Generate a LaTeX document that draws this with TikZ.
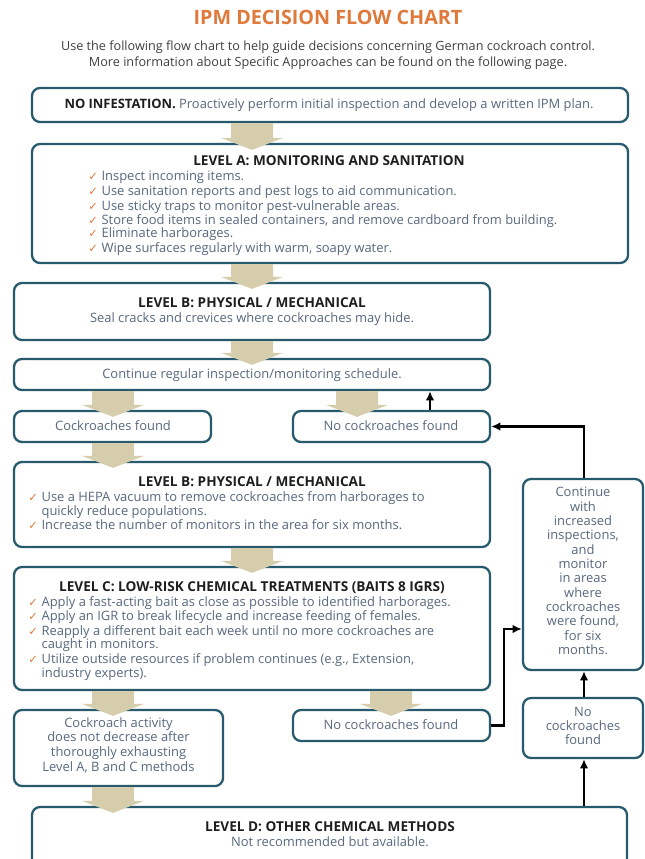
\documentclass[tikz,border=0pt]{standalone}
\usepackage{fontspec}
\setmainfont{Open Sans}
\newfontfamily\symfont{DejaVu Sans}
\usetikzlibrary{arrows.meta,calc,fit}
\definecolor{boxc}{RGB}{40,90,110}
\definecolor{bodyc}{RGB}{88,104,126}
\definecolor{headc}{RGB}{30,30,30}
\definecolor{orangec}{RGB}{224,122,60}
\definecolor{tanc}{RGB}{214,205,172}
\newcommand\ck{\makebox[10pt][l]{\symfont\fontsize{8.5}{8.5}\selectfont\color{orangec}✓}}
\newcommand\tanarrow[3]{%
  \fill[tanc] ($(#1.south -| #3)+(-21,0)$) -- ($(#2.north -| #3)+(-21,-5)$) -- ($(#2.north -| #3)+(-31,-5)$) -- ($(#2.north -| #3)+(0,7)$) -- ($(#2.north -| #3)+(31,-5)$) -- ($(#2.north -| #3)+(21,-5)$) -- ($(#1.south -| #3)+(21,0)$) -- cycle;}
\tikzset{
  box/.style={draw=boxc, line width=1.7pt, rounded corners=6pt, fill=white, inner sep=0pt},
  txt/.style={inner sep=0pt, anchor=base, text=bodyc, font=\fontsize{9.7}{10.5}\selectfont},
  txtl/.style={txt, anchor=base west},
  head/.style={txt, text=headc, font=\fontsize{10.2}{10.5}\selectfont\bfseries},
  blk/.style={draw=black, line width=1.6pt, -{Latex[length=7pt,width=6.5pt]}}
}
\begin{document}
\begin{tikzpicture}[x=0.75pt,y=-0.75pt]
\useasboundingbox (0,0) rectangle (645,859);
\clip (0,0) rectangle (645,859);
\fill[white] (0,0) rectangle (645,859);
% title
\node[txt, text=orangec, font=\fontsize{14.8}{16}\selectfont\bfseries] (title) at (328,25) {IPM DECISION FLOW CHART};
\node[txt, text=headc!85, font=\fontsize{9.5}{10.5}\selectfont] (sub1) at (328,51) {Use the following flow chart to help guide decisions concerning German cockroach control.};
\node[txt, text=headc!85, font=\fontsize{9.5}{10.5}\selectfont] (sub2) at (328,67) {More information about Specific Approaches can be found on the following page.};
% boxes
\node[box, fit={(32,88) (628,122)}] (b1) {};
\node[box, fit={(32,144) (628,263)}] (lA) {};
\node[box, fit={(14,283) (490,340)}] (lB) {};
\node[box, fit={(14,359) (490,390)}] (cont) {};
\node[box, fit={(14,411) (211,442)}] (found) {};
\node[box, fit={(293,411) (490,442)}] (nofound) {};
\node[box, fit={(14,462) (490,547)}] (lB2) {};
\node[box, fit={(14,567) (490,690)}] (lC) {};
\node[box, fit={(14,710) (223,786)}] (act) {};
\node[box, fit={(293,710) (490,741)}] (nofound2) {};
\node[box, fit={(523,479) (643,670)}] (contw) {};
\node[box, fit={(523,698) (643,758)}] (nofound3) {};
\node[box, fit={(32,807) (627,880)}] (lD) {};
% positions
\coordinate (xm) at (252,0);
\coordinate (xl) at (113,0);
\coordinate (xr) at (357,0);
\coordinate (xr2) at (391,0);
\coordinate (xb) at (430,0);
\coordinate (xc) at (584,0);
\coordinate (xj) at (504,0);
\coordinate (yj) at (0,629);
% tan arrows
\tanarrow{b1}{lA}{xm}
\tanarrow{lA}{lB}{xm}
\tanarrow{lB}{cont}{xm}
\tanarrow{cont}{found}{xl}
\tanarrow{cont}{nofound}{xr}
\tanarrow{found}{lB2}{xl}
\tanarrow{lB2}{lC}{xm}
\tanarrow{lC}{act}{xl}
\tanarrow{lC}{nofound2}{xr2}
\tanarrow{act}{lD}{xl}
% black arrows
\draw[blk] (nofound.north -| xb) -- (cont.south -| xb);
\draw[blk] (contw.north -| xc) |- (nofound.east);
\draw[blk] (nofound2.east) -| (xj |- yj) -- (contw.west |- yj);
\draw[blk] (lD.north -| xc) -- (nofound3.south -| xc);
\draw[blk] (nofound3.north -| xc) -- (contw.south -| xc);
% texts
\node[txt] (t1) at (329,109) {\textcolor{headc}{\bfseries NO INFESTATION.} Proactively perform initial inspection and develop a written IPM plan.};
\node[head] (tA) at (329,166) {LEVEL A: MONITORING AND SANITATION};
\node[txtl] (a1) at (88,181) {\ck Inspect incoming items.};
\node[txtl] (a2) at (88,196) {\ck Use sanitation reports and pest logs to aid communication.};
\node[txtl] (a3) at (88,210) {\ck Use sticky traps to monitor pest-vulnerable areas.};
\node[txtl] (a4) at (88,224) {\ck Store food items in sealed containers, and remove cardboard from building.};
\node[txtl] (a5) at (88,238) {\ck Eliminate harborages.};
\node[txtl] (a6) at (88,252) {\ck Wipe surfaces regularly with warm, soapy water.};
\node[head] (tB) at (252,307) {LEVEL B: PHYSICAL / MECHANICAL};
\node[txt] (b1t) at (252,322) {Seal cracks and crevices where cockroaches may hide.};
\node[txt] (ct) at (252,378) {Continue regular inspection/monitoring schedule.};
\node[txt] (ft) at (113,430) {Cockroaches found};
\node[txt] (nft) at (391,430) {No cockroaches found};
\node[head] (tB2) at (252,486) {LEVEL B: PHYSICAL / MECHANICAL};
\node[txtl] (c1) at (28,501) {\ck Use a HEPA vacuum to remove cockroaches from harborages to};
\node[txtl] (c1b) at (28,515) {\phantom{\ck}quickly reduce populations.};
\node[txtl] (c2) at (28,529) {\ck Increase the number of monitors in the area for six months.};
\node[head] (tC) at (252,591) {LEVEL C: LOW-RISK CHEMICAL TREATMENTS (BAITS 8 IGRS)};
\node[txtl] (d1) at (28,606) {\ck Apply a fast-acting bait as close as possible to identified harborages.};
\node[txtl] (d2) at (28,620) {\ck Apply an IGR to break lifecycle and increase feeding of females.};
\node[txtl] (d3) at (28,635) {\ck Reapply a different bait each week until no more cockroaches are};
\node[txtl] (d3b) at (28,648) {\phantom{\ck}caught in monitors.};
\node[txtl] (d4) at (28,663) {\ck Utilize outside resources if problem continues (e.g., Extension,};
\node[txtl] (d4b) at (28,677) {\phantom{\ck}industry experts).};
\node[txt, align=center, anchor=north, font=\fontsize{9.7}{11}\selectfont] (at) at (118.5,717) {Cockroach activity\\does not decrease after\\thoroughly exhausting\\Level A, B and C methods};
\node[txt] (nft2) at (391,729) {No cockroaches found};
\node[txt, align=center, anchor=north, font=\fontsize{9.7}{10.76}\selectfont] (cwt) at (583,487) {Continue\\with\\increased\\inspections,\\and\\monitor\\in areas\\where\\cockroaches\\were found,\\for six\\months.};
\node[txt, align=center, anchor=north, font=\fontsize{9.7}{10.5}\selectfont] (nft3) at (583,707) {No\\cockroaches\\found};
\node[head] (tD) at (330,831) {LEVEL D: OTHER CHEMICAL METHODS};
\node[txt] (dt) at (330,846) {Not recommended but available.};
\end{tikzpicture}
\end{document}
